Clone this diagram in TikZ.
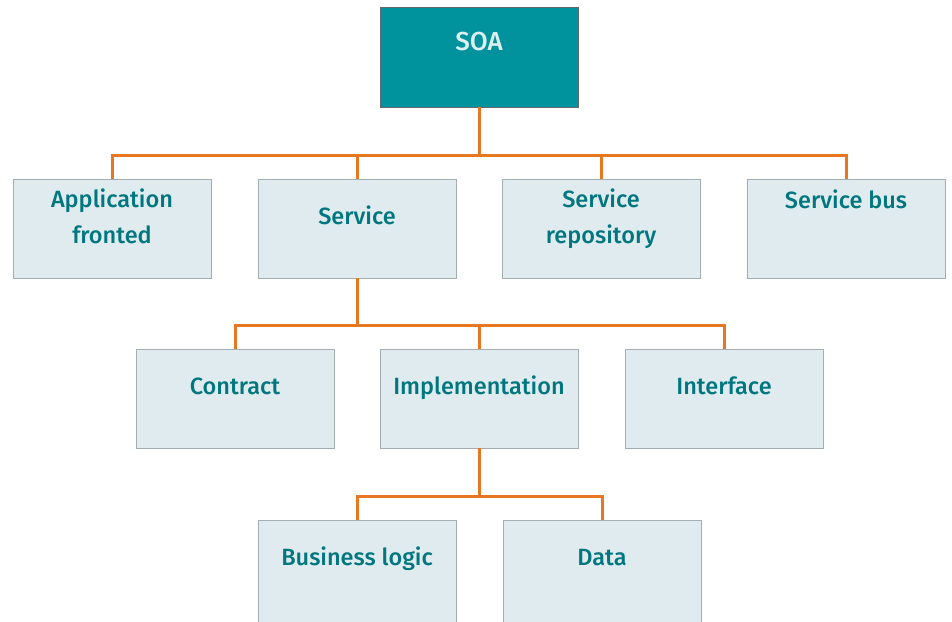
\documentclass[tikz,border=0pt]{standalone}
\usepackage{fontspec}
\setmainfont{Fira Sans}[UprightFont=* Medium]
\definecolor{soafill}{HTML}{00939E}
\definecolor{soatext}{HTML}{DDEFEF}
\definecolor{boxfill}{HTML}{DFEBEF}
\definecolor{boxline}{HTML}{A3AEB3}
\definecolor{tealtext}{HTML}{00777E}
\definecolor{conncol}{HTML}{E87722}
\tikzset{
  lbox/.style={draw=boxline, line width=1pt, fill=boxfill, anchor=north west,
    minimum width=198pt, minimum height=99pt, inner sep=0pt, outer sep=0pt},
  topbox/.style={draw=boxline!60!black, line width=0.8pt, fill=soafill, anchor=north west,
    minimum width=198pt, minimum height=100pt, inner sep=0pt, outer sep=0pt},
  lbl/.style={anchor=base, text=tealtext, font=\fontsize{23.5}{36}\selectfont, align=center, inner sep=0pt},
  conn/.style={draw=conncol, line width=3pt}
}
\begin{document}
\begin{tikzpicture}[x=1pt,y=-1pt]
\useasboundingbox (0,0) rectangle (952,621);
\clip (0,0) rectangle (952,621);
% boxes
\node[topbox] (soa) at (380,7) {};
\node[lbox] (app) at (13,179) {};
\node[lbox] (svc) at (258,179) {};
\node[lbox] (rep) at (502,179) {};
\node[lbox] (bus) at (747,179) {};
\node[lbox] (con) at (136,349) {};
\node[lbox] (imp) at (380,349) {};
\node[lbox] (int) at (625,349) {};
\node[lbox, minimum height=120pt] (biz) at (258,520) {};
\node[lbox, minimum height=120pt] (dat) at (503,520) {};
% labels
\node[lbl, text=soatext, font=\fontsize{26}{30}\selectfont] (tsoa) at (479,50) {SOA};
\node[lbl] (tapp) at (112,243) {Application\\fronted};
\node[lbl] (tsvc) at (357,224) {Service};
\node[lbl] (trep) at (601,243) {Service\\repository};
\node[lbl] (tbus) at (846,208) {Service bus};
\node[lbl] (tcon) at (235,394) {Contract};
\node[lbl] (timp) at (479,394) {Implementation};
\node[lbl] (tint) at (724,394) {Interface};
\node[lbl] (tbiz) at (357,565) {Business logic};
\node[lbl] (tdat) at (602,565) {Data};
% connectors
\coordinate (j1) at (479,155);
\coordinate (j2) at (357,325);
\coordinate (j3) at (479,496);
\draw[conn] (soa.south) -- (j1);
\draw[conn] (app.north) |- (j1);
\draw[conn] (svc.north) |- (j1);
\draw[conn] (rep.north) |- (j1);
\draw[conn] (bus.north) |- (j1);
\draw[conn] (svc.south) -- (j2);
\draw[conn] (con.north) |- (j2);
\draw[conn] (imp.north) |- (j2);
\draw[conn] (int.north) |- (j2);
\draw[conn] (imp.south) -- (j3);
\draw[conn] (biz.north) |- (j3);
\draw[conn] (dat.north) |- (j3);
\end{tikzpicture}
\end{document}
